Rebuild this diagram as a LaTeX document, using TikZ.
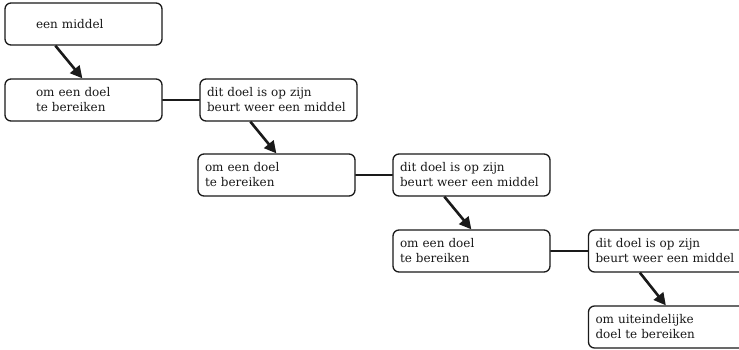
\documentclass[tikz,border=0pt]{standalone}
\usepackage{fontspec}
\setmainfont{DejaVu Serif}
\usetikzlibrary{arrows.meta}
\definecolor{meanInk}{HTML}{1A1A1A}

\begin{document}
\begin{tikzpicture}[x=1pt,y=-1pt,>=Latex,line cap=round,line join=round]
\useasboundingbox[fill=white] (0,0) rectangle (739,350);
\tikzset{stap/.style={draw=meanInk,line width=1.3pt,rounded corners=6pt,minimum width=157pt,minimum height=42pt,text width=143pt,align=left,inner xsep=7pt,inner ysep=0pt,font=\fontsize{12}{15}\selectfont,text=meanInk},eerste/.style={stap,text width=95pt},pijl/.style={draw=meanInk,line width=2.6pt,line cap=butt,-{Triangle[length=12pt,width=12pt]}},lijn/.style={draw=meanInk,line width=1.2pt}}
\node[eerste] (middel) at (83.5,24) {een middel};
\node[eerste] (doelA) at (83.5,100) {om een doel\\te bereiken};
\node[stap] (middelA) at (278.5,100) {dit doel is op zijn\\beurt weer een middel};
\node[stap] (doelB) at (276.5,175) {om een doel\\te bereiken};
\node[stap] (middelB) at (471.5,175) {dit doel is op zijn\\beurt weer een middel};
\node[stap] (doelC) at (471.5,251) {om een doel\\te bereiken};
\node[stap] (middelC) at (667,251) {dit doel is op zijn\\beurt weer een middel};
\node[stap] (einde) at (667,327) {om uiteindelijke\\doel te bereiken};
\draw[pijl] ([xshift=51pt]middel.south west) -- ([xshift=78pt]doelA.north west);
\draw[pijl] ([xshift=51pt]middelA.south west) -- ([xshift=79pt]doelB.north west);
\draw[pijl] ([xshift=52pt]middelB.south west) -- ([xshift=79pt]doelC.north west);
\draw[pijl] ([xshift=52pt]middelC.south west) -- ([xshift=78pt]einde.north west);
\draw[lijn] (doelA.east) -- (middelA.west);
\draw[lijn] (doelB.east) -- (middelB.west);
\draw[lijn] (doelC.east) -- (middelC.west);
\end{tikzpicture}
\end{document}
